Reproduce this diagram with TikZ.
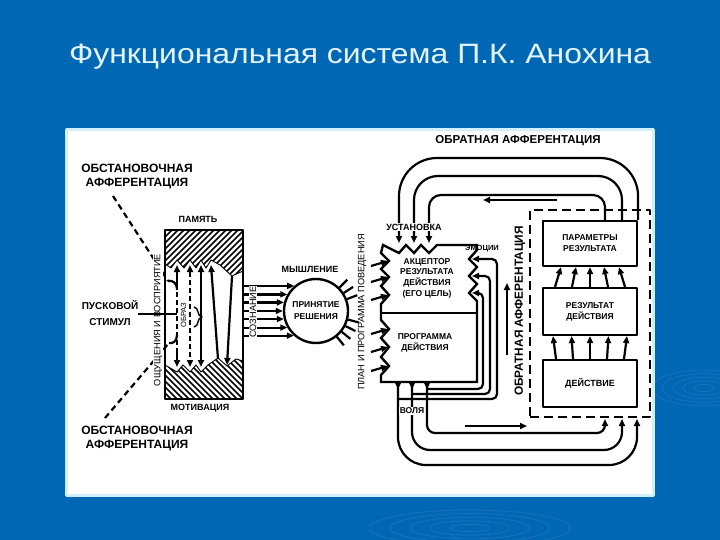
\documentclass[tikz,border=0pt]{standalone}
\usepackage{fontspec}
\setmainfont{Liberation Sans}
\usetikzlibrary{arrows.meta,calc}
\definecolor{bgblue}{HTML}{0067B4}
\definecolor{ttl}{HTML}{E4F4FF}
\definecolor{rim}{HTML}{D2F0FB}
\definecolor{ripple}{HTML}{1A72BA}
\newcommand\myfs[2]{\fontsize{#1}{#2}\selectfont}
\tikzset{
  ln/.style={line width=2.2pt},
  bx/.style={draw, line width=2.2pt, minimum width=94pt, inner sep=1pt, align=center, font=\bfseries\myfs{8.5}{10.8}},
  lb/.style={font=\bfseries\myfs{9}{11}, inner sep=1pt, align=center},
  rl/.style={font=\myfs{9.2}{11}, inner sep=0.6pt, rotate=90},
  dsh/.style={dash pattern=on 5pt off 3pt},
  hatchln/.style={line width=1.6pt},
}
\begin{document}
\begin{tikzpicture}[x=1pt,y=-1pt,>={Triangle[length=7pt,width=6pt]}, line join=round]
\useasboundingbox (0,0) rectangle (720,540);
\fill[bgblue] (0,0) rectangle (720,540);
% ripples
\foreach \r in {8,16,24,32,40} \draw[ripple, line width=0.8pt] (704,388) ellipse ({\r*1.3} and {\r*0.45});
\foreach \r in {20,40,60,80,100} \draw[ripple, line width=0.8pt] (470,528) ellipse ({\r} and {\r*0.18});
% title
\node[text=ttl, font=\myfs{28}{32}, inner sep=0] (title) at (360,57) {\scalebox{1.14}[1]{Функциональная система П.К. Анохина}};
% panel
\draw[rim, line width=3pt, fill=white] (66.5,129.5) rectangle (653.5,495.5);

% ---------- left labels
\node[lb, font=\bfseries\myfs{12}{14}] (obst1) at (137,177) {ОБСТАНОВОЧНАЯ\\АФФЕРЕНТАЦИЯ};
\node[lb, font=\bfseries\myfs{12}{14}] (obst2) at (137,439) {ОБСТАНОВОЧНАЯ\\АФФЕРЕНТАЦИЯ};
\node[lb, font=\bfseries\myfs{10}{16}] (stim) at (110,313) {ПУСКОВОЙ\\СТИМУЛ};
\node[lb] (pam) at (198,219) {ПАМЯТЬ};
\node[lb] (mot) at (200,408) {МОТИВАЦИЯ};

% ---------- memory block hatching
\begin{scope}
\clip (165,230) -- (243,230) -- (243,271) -- (232,276) -- (220,265) -- (211,260) -- (206,268) -- (201,260) -- (196,268) -- (190,260) -- (184,268) -- (177,260) -- (171,268) -- (165,264) -- cycle;
\foreach \i in {0,...,22} \draw[hatchln] (100+\i*6,290) -- ++(80,-80);
\end{scope}
\draw[line width=0.9pt] (243,271) -- (232,276) -- (220,265) -- (211,260) -- (206,268) -- (201,260) -- (196,268) -- (190,260) -- (184,268) -- (177,260) -- (171,268) -- (165,264);
\begin{scope}
\clip (165,399) -- (165,365) -- (177,372) -- (183,365) -- (190,372) -- (196,365) -- (201,372) -- (208,365) -- (218,358) -- (227,366) -- (236,359) -- (243,361) -- (243,399) -- cycle;
\foreach \i in {0,...,23} \draw[hatchln] (110+\i*6,350) -- ++(60,60);
\end{scope}
\draw[line width=0.9pt] (165,365) -- (177,372) -- (183,365) -- (190,372) -- (196,365) -- (201,372) -- (208,365) -- (218,358) -- (227,366) -- (236,359) -- (243,361);
\node[draw, line width=2.4pt, minimum width=78pt, minimum height=169pt, inner sep=0] (mem) at (204,314.5) {};

% arrows inside memory
\draw[ln,<-] (177,265) -- (177,284);
\draw[ln,dsh] (177,284) -- (177,348);
\draw[ln,->] (177,348) -- (177,367);
\draw[ln,dsh,<->] (190,265) -- (190,367);
\draw[ln,<->] (201,265) -- (201,367);
\draw[ln,->] (218,359) -- (211,265);
\draw[ln,->] (232,276) -- (227,365);
\draw[line width=1.4pt] (194,307) .. controls (199,307) and (197,317) .. (202,317) .. controls (197,317) and (199,327) .. (194,327);
\node[font=\myfs{7.5}{9}, fill=white, inner sep=0.8pt, rotate=90] (obraz) at (183.5,315) {ОБРАЗ};

% dashed afferent lines
\coordinate (d1) at (113,196);
\coordinate (d1e) at (168,281);
\coordinate (d2) at (105,418);
\coordinate (d2e) at (169,343);
\draw[ln, dash pattern=on 6pt off 4pt] (d1) -- (d1e);
\draw[ln, dash pattern=on 6pt off 4pt] (d2) -- (d2e);
\draw[ln] (d1e) .. controls (173,280) and (177,283) .. (177,290);
\draw[ln] (d2e) .. controls (173,344) and (177,341) .. (177,335);
\node[rl, fill=white] (osh) at (158,320) {ОЩУЩЕНИЯ И ВОСПРИЯТИЕ};
\coordinate (stimend) at (138,314);
\draw[ln] (stimend) -- (177,314);

% ---------- decision circle
\node[circle, draw, line width=2.4pt, minimum size=64pt, inner sep=0, align=center, font=\bfseries\myfs{8.5}{12}] (dec) at (316,311) {ПРИНЯТИЕ\\РЕШЕНИЯ};
\node[lb] (think) at (310,269) {МЫШЛЕНИЕ};
\foreach \a in {131.4,150,165.5,180,194.5,210,228.6} \draw[ln,->] (mem.east |- dec.\a) -- (dec.\a);
\node[rl, fill=white] (soz) at (253,312) {СОЗНАНИЕ};
\foreach \a in {45,33,21,345,333,321,309} \draw[ln] (dec.\a) -- ++(\a:11pt);
\node[rl] (plan) at (362,312) {ПЛАН И ПРОГРАММА ПОВЕДЕНИЯ};

% ---------- acceptor / program block
\draw[line width=2.4pt, line join=miter, miter limit=4] (383,245) -- (399,253) -- (406,245) -- (414,253) -- (421,245) -- (429,253) -- (437,245) -- (477,245) -- (477,250) -- (469,259) -- (477,267) -- (469,276) -- (477,284) -- (469,293) -- (477,301) -- (477,382) -- (381,382) -- (381,375) -- (389,366) -- (381,357) -- (389,347) -- (381,338) -- (389,329) -- (381,320) -- (381,304) -- (389,295) -- (381,286) -- (389,277) -- (381,269) -- (389,261) -- (381,253) -- cycle;
\draw[line width=2.4pt] (381,313) -- (477,313);
\node[lb, font=\bfseries\myfs{8.5}{10.7}] (acc) at (427,278) {АКЦЕПТОР\\РЕЗУЛЬТАТА\\ДЕЙСТВИЯ\\(ЕГО ЦЕЛЬ)};
\node[lb, font=\bfseries\myfs{8.5}{10.3}] (prog) at (425,343) {ПРОГРАММА\\ДЕЙСТВИЯ};
\foreach \yy in {261,277,295,329,347,366} \draw[ln,->] (371,\yy+5) -- (388,\yy);

% ---------- result blocks
\node[draw, line width=2.4pt, dash pattern=on 9pt off 5pt, minimum width=120pt, minimum height=207pt] (fb) at (590,313.5) {};
\node[bx, minimum height=45pt] (par) at (590,243.5) {ПАРАМЕТРЫ\\РЕЗУЛЬТАТА};
\node[bx, minimum height=47pt] (res) at (590,311.5) {РЕЗУЛЬТАТ\\ДЕЙСТВИЯ};
\node[bx, minimum height=47pt, font=\bfseries\myfs{9}{10}] (act) at (590,383.5) {ДЕЙСТВИЕ};
\foreach \a/\b in {-34/-37,-17/-18.5,0/0,17/18.5,34/37} \draw[ln,->] ([xshift=\a pt]act.north) -- ([xshift=\b pt]res.south);
\foreach \a/\b in {-35/-29,-18/-14,0/0,18/14,35/29} \draw[ln,->] ([xshift=\a pt]res.north) -- ([xshift=\b pt]par.south);

% ---------- upper feedback loops
\draw[ln,<-,rounded corners=38pt] (399,243) |- (638,158) -- (par.north east);
\draw[ln,<-,rounded corners=24pt] (414,243) |- (622,176) -- (622,220);
\draw[ln,<-,rounded corners=12pt] (429,243) |- (605,195) -- (605,220);
\node[lb, fill=white] (ust) at (414,227) {УСТАНОВКА};
\draw[ln,->] (557,200) -- (483,200);
\node[lb, font=\bfseries\myfs{11.5}{13}] (oa1) at (518,141) {ОБРАТНАЯ АФФЕРЕНТАЦИЯ};
\node[lb, font=\bfseries\myfs{11.8}{13}, rotate=90] (oa2) at (520,311) {ОБРАТНАЯ АФФЕРЕНТАЦИЯ};
\draw[ln,->] (507,355) -- (507,283);

% ---------- efferent lines (will) and emotions
\foreach \x in {398,412,427} \fill (\x-3.5,382) -- (\x+3.5,382) -- (\x,389) -- cycle;
\draw[ln,->,rounded corners=5pt] (398,399) -| (497,259) -- (472,259);
\draw[ln,->,rounded corners=5pt] (412,394) -| (490,276) -- (472,276);
\draw[ln,->,rounded corners=5pt] (427,389) -| (483,293) -- (472,293);
\draw[ln,->,rounded corners=28pt] (398,382) |- (637,465) -- (637,419);
\draw[ln,->,rounded corners=18pt] (412,382) |- (622,450) -- (622,419);
\draw[ln,->,rounded corners=8pt] (427,382) |- (605,433) -- (605,419);
\node[lb, font=\bfseries\myfs{7.5}{9}] (emo) at (482,249) {ЭМОЦИИ};
\node[lb, font=\bfseries\myfs{8.5}{10}, fill=white, inner sep=0.5pt] (vol) at (412,411) {ВОЛЯ};
\draw[ln,->] (465,426) -- (527,426);
\end{tikzpicture}
\end{document}
